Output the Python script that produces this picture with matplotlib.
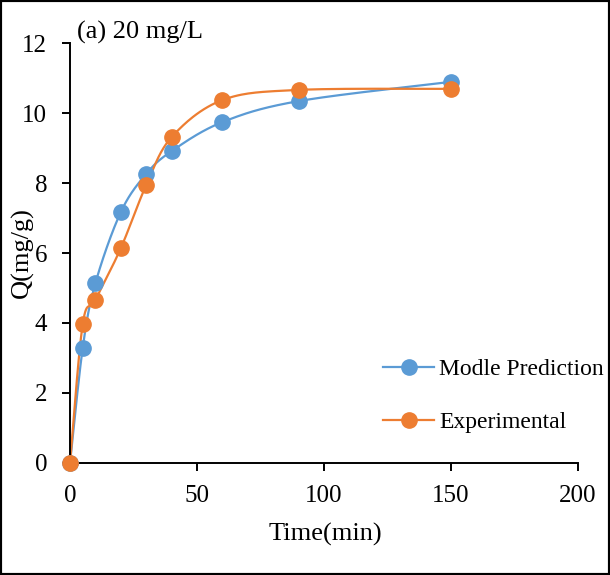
import numpy as np
import matplotlib
matplotlib.use("Agg")
import matplotlib.pyplot as plt
from matplotlib.patches import Rectangle

plt.rcParams["font.family"] = ["Liberation Serif", "DejaVu Serif"]

# data
time_min = [0, 5, 10, 20, 30, 40, 60, 90, 150]
q_model = [0, 3.29, 5.14, 7.17, 8.26, 8.91, 9.74, 10.34, 10.89]
q_exp = [0, 3.97, 4.66, 6.14, 7.94, 9.31, 10.37, 10.66, 10.69]

blue = "#5B9BD5"
orange = "#ED7D31"


def excel_smooth(x, y, n=30):
    # Excel-like smoothed line: cubic Bezier between points, Catmull-Rom control points
    x = np.asarray(x, float)
    y = np.asarray(y, float)
    px = np.concatenate([[x[0]], x, [x[-1]]])
    py = np.concatenate([[y[0]], y, [y[-1]]])
    xs, ys = [], []
    t = np.linspace(0, 1, n)
    for i in range(1, len(px) - 2):
        p0 = np.array([px[i], py[i]])
        p3 = np.array([px[i + 1], py[i + 1]])
        c1 = p0 + (np.array([px[i + 1], py[i + 1]]) - np.array([px[i - 1], py[i - 1]])) / 6
        c2 = p3 - (np.array([px[i + 2], py[i + 2]]) - np.array([px[i], py[i]])) / 6
        b = ((1 - t) ** 3)[:, None] * p0 + (3 * (1 - t) ** 2 * t)[:, None] * c1 \
            + (3 * (1 - t) * t ** 2)[:, None] * c2 + (t ** 3)[:, None] * p3
        xs.extend(b[:, 0])
        ys.extend(b[:, 1])
    return xs, ys


fig = plt.figure(figsize=(6.1, 5.75), dpi=100)
ax = fig.add_axes([0.1148, 0.1948, 0.8327, 0.7304])

for q, c, lab in [(q_model, blue, "Modle Prediction"), (q_exp, orange, "Experimental")]:
    sx, sy = excel_smooth(time_min, q)
    ax.plot(sx, sy, color=c, lw=1.6, zorder=2)
    ax.plot(time_min, q, "o", color=c, ms=11, zorder=3, clip_on=False)
    ax.plot([], [], "-o", color=c, lw=1.6, ms=11, label=lab)

ax.set_xlim(0, 200)
ax.set_ylim(0, 12)
ax.set_xticks([0, 50, 100, 150, 200])
ax.set_yticks([0, 2, 4, 6, 8, 10, 12])
for s in ["top", "right"]:
    ax.spines[s].set_visible(False)
for s in ["left", "bottom"]:
    ax.spines[s].set_linewidth(1.4)
ax.tick_params(direction="out", length=5.5, width=1.4, labelsize=18)
ax.tick_params(axis="x", pad=10)
ax.tick_params(axis="y", pad=11)
ax.set_xlabel("Time(min)", fontsize=19)
ax.set_ylabel("Q(mg/g)", fontsize=19)
ax.xaxis.set_label_coords(0.502, -0.171)
ax.xaxis.label.set_va("center")
ax.yaxis.set_label_coords(-0.0945, 0.5)
ax.yaxis.label.set_va("center")
ax.text(0.013, 1.024, "(a) 20 mg/L", transform=ax.transAxes, fontsize=19, va="center", ha="left")

ax.legend(loc="center left", bbox_to_anchor=(0.592, 0.16), frameon=False, fontsize=17,
          handlelength=2.2, handletextpad=0.2, labelspacing=1.35, borderpad=0)

fig.add_artist(Rectangle((0, 0), 1, 1, transform=fig.transFigure, fill=False,
                         edgecolor="black", lw=3))

fig.savefig("out.png", dpi=100)
